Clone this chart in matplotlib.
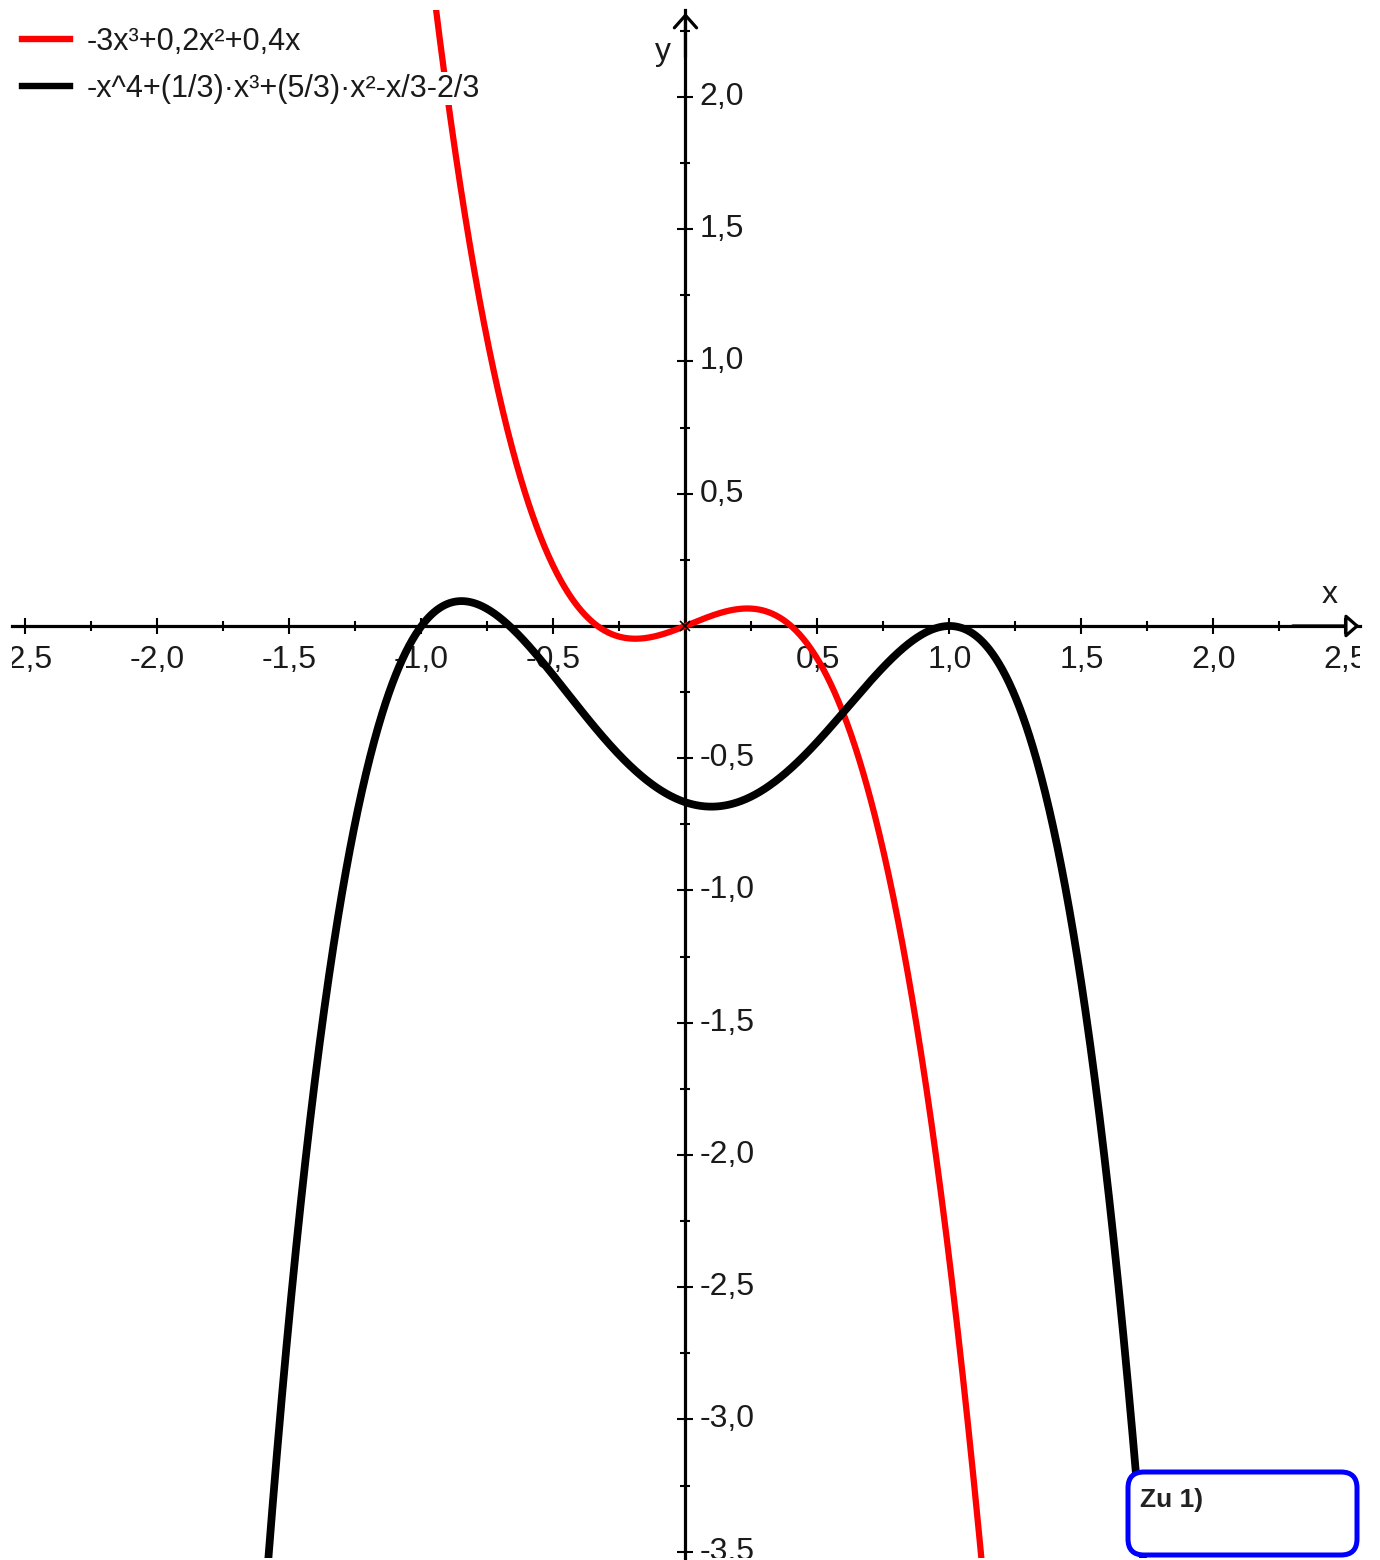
import numpy as np
import matplotlib
matplotlib.use("Agg")
import matplotlib.pyplot as plt
from matplotlib.patches import FancyBboxPatch
from matplotlib.transforms import IdentityTransform
from matplotlib.ticker import MultipleLocator

red_label = "-3x³+0,2x²+0,4x"
black_label = "-x^4+(1/3)·x³+(5/3)·x²-x/3-2/3"
red_coeffs = [-3.0, 0.2, 0.4, 0.0]
black_coeffs = [-1.0, 1.0 / 3.0, 5.0 / 3.0, -1.0 / 3.0, -2.0 / 3.0]

x_tick_values = [-2.5, -2.0, -1.5, -1.0, -0.5, 0.5, 1.0, 1.5, 2.0, 2.5]
x_tick_labels = ["-2,5", "-2,0", "-1,5", "-1,0", "-0,5", "0,5", "1,0", "1,5", "2,0", "2,5"]
y_tick_values = [2.0, 1.5, 1.0, 0.5, -0.5, -1.0, -1.5, -2.0, -2.5, -3.0, -3.5]
y_tick_labels = ["2,0", "1,5", "1,0", "0,5", "-0,5", "-1,0", "-1,5", "-2,0", "-2,5", "-3,0", "-3,5"]

x_min, x_max = -2.551, 2.555
y_min, y_max = -3.524, 2.329

plt.rcParams['font.family'] = ['Liberation Sans', 'DejaVu Sans']
txt_color = '#1a1a1a'

W, H = 1380, 1560
fig = plt.figure(figsize=(W / 100, H / 100), dpi=100)
ax = fig.add_axes([12 / W, 2 / H, (1360 - 12) / W, (1550 - 2) / H])
ax.set_xlim(x_min, x_max)
ax.set_ylim(y_min, y_max)
ax.patch.set_alpha(0)

# axes through the origin
for s in ['top', 'right']:
    ax.spines[s].set_visible(False)
ax.spines['left'].set_position(('data', 0))
ax.spines['bottom'].set_position(('data', 0))
for s in ['left', 'bottom']:
    ax.spines[s].set_linewidth(2.3)
ax.xaxis.set_major_locator(MultipleLocator(0.5))
ax.xaxis.set_minor_locator(MultipleLocator(0.25))
ax.yaxis.set_major_locator(MultipleLocator(0.5))
ax.yaxis.set_minor_locator(MultipleLocator(0.25))
ax.tick_params(which='major', direction='inout', length=11, width=1.5,
               labelbottom=False, labelleft=False)
ax.tick_params(which='minor', direction='inout', length=7, width=1.5)

# curves
xs = np.linspace(x_min, x_max, 2000)
ax.plot(xs, np.polyval(red_coeffs, xs), color='#ff0000', lw=4.5,
        label=red_label, zorder=3)
ax.plot(xs, np.polyval(black_coeffs, xs), color='black', lw=5.6,
        label=black_label, zorder=4)

# origin marker
ax.plot([0], [0], marker='x', color='black', ms=7, mew=1.2, zorder=5)

# tick labels
for v, t in zip(x_tick_values, x_tick_labels):
    ax.annotate(t, xy=(v, 0), xytext=(0, -14), textcoords='offset points',
                ha='center', va='top', fontsize=23, color=txt_color,
                annotation_clip=False, clip_on=True, zorder=2)
for v, t in zip(y_tick_values, y_tick_labels):
    ax.annotate(t, xy=(0, v), xytext=(10, 0), textcoords='offset points',
                ha='left', va='center', fontsize=23, color=txt_color,
                annotation_clip=False, clip_on=True, zorder=2)

# axis labels
ax.text(-0.085, 2.17, "y", fontsize=23, color=txt_color, ha='center', va='center')
ax.text(2.44, 0.117, "x", fontsize=23, color=txt_color, ha='center', va='center')

# axis arrows
ax.annotate('', xy=(0, 2.318), xytext=(0, 2.15),
            arrowprops=dict(arrowstyle='->,head_length=0.9,head_width=0.8',
                            lw=2.3, color='black', shrinkA=0, shrinkB=0),
            annotation_clip=False)
ax.annotate('', xy=(2.553, 0), xytext=(2.3, 0),
            arrowprops=dict(arrowstyle='-|>,head_length=0.8,head_width=0.7',
                            lw=2.3, ec='black', fc='white', shrinkA=0, shrinkB=0),
            annotation_clip=False)

# legend
leg = ax.legend(loc='upper left', bbox_to_anchor=(22 / W, 1 - 27 / H),
                bbox_transform=fig.transFigure,
                frameon=False, fontsize=22, handlelength=1.57, handletextpad=0.55,
                borderpad=0, borderaxespad=0, labelspacing=0.55)
for line in leg.get_lines():
    line.set_linewidth(4.6)
for t in leg.get_texts():
    t.set_color(txt_color)
    t.set_bbox(dict(facecolor='white', edgecolor='none', pad=1))
leg.set_zorder(10)

# "Zu 1)" box
box = FancyBboxPatch((1128, 5), 229, 83,
                     boxstyle='round,pad=0,rounding_size=16',
                     transform=IdentityTransform(), facecolor='white',
                     edgecolor='#0000ff', linewidth=3.6, zorder=20)
fig.patches.append(box)
fig.text(1140 / W, 1 - 1500 / H, "Zu 1)", fontsize=19, fontweight='bold',
         family=['Liberation Sans', 'DejaVu Sans'],
         color='#222222', ha='left', va='center', zorder=21)

fig.savefig("out.png", dpi=100)
